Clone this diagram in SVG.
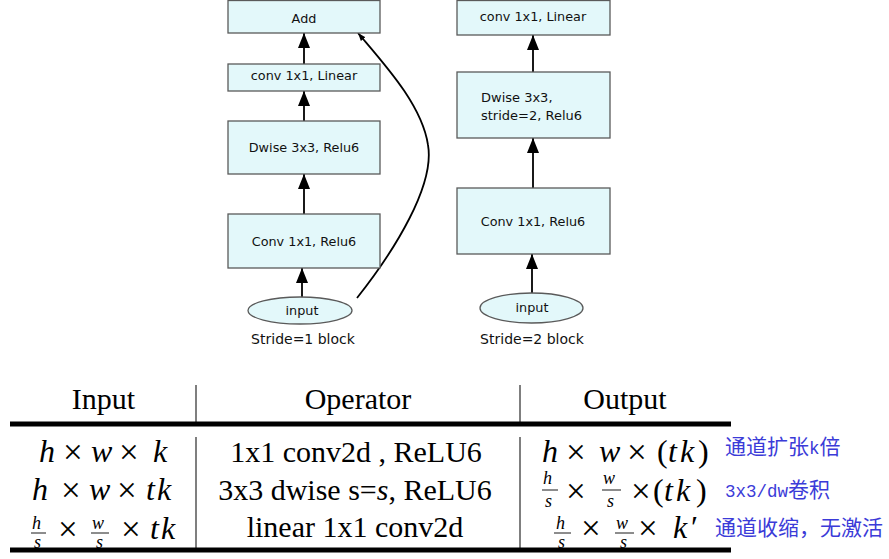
<svg xmlns="http://www.w3.org/2000/svg" width="889" height="559" viewBox="0 0 889 559">
<defs>
<marker id="ah" markerUnits="userSpaceOnUse" markerWidth="15" markerHeight="12" refX="15" refY="6" orient="auto">
<path d="M0,0 L15,6 L0,12 z" fill="#000"/>
</marker>
<marker id="ahs" markerUnits="userSpaceOnUse" markerWidth="8" markerHeight="6" refX="8" refY="3" orient="auto">
<path d="M0,0 L8,3 L0,6 z" fill="#000"/>
</marker>
<style>
.box{fill:#e3f8fa;stroke:#5a5a5a;stroke-width:1.3}
.lbl{font-family:"DejaVu Sans",sans-serif;font-size:12.8px;fill:#111;text-anchor:middle}
.lbl2{font-family:"DejaVu Sans",sans-serif;font-size:13px;fill:#111}
.cap{font-family:"DejaVu Sans",sans-serif;font-size:14px;fill:#111;text-anchor:middle}
.conn{stroke:#000;stroke-width:1.8;fill:none}
.hd{font-family:"Liberation Serif",serif;font-size:30px;fill:#000;text-anchor:middle}
.op{font-family:"Liberation Serif",serif;font-size:30px;fill:#000;text-anchor:middle}
.m{font-family:"Liberation Serif",serif;font-size:32px;font-style:italic;fill:#000}
.xx{font-family:"Liberation Serif",serif;font-size:35px;fill:#000}
.r{font-style:normal}
.f{font-family:"Liberation Serif",serif;font-size:18px;font-style:italic;fill:#000}
.bar{stroke:#000;stroke-width:0.9}
.thick{fill:#000}
.sep{stroke:#555;stroke-width:1.5}
.cn{font-family:"Noto Sans CJK SC",sans-serif;font-size:21px;fill:#3b3bd8}
.mono{font-family:"Liberation Mono",monospace;font-size:17.5px}
</style>
</defs>

<g id="connectors">
<line class="conn" x1="304" y1="64" x2="304" y2="33" marker-end="url(#ah)"/>
<line class="conn" x1="304" y1="121" x2="304" y2="91" marker-end="url(#ah)"/>
<line class="conn" x1="304" y1="214" x2="304" y2="174" marker-end="url(#ah)"/>
<line class="conn" x1="302" y1="297" x2="302" y2="268" marker-end="url(#ah)"/>
<path class="conn" d="M357,298 C395,250 435,185 428,145 C422,105 385,65 358,33" stroke-width="1.4" marker-end="url(#ahs)"/>
<line class="conn" x1="533" y1="72" x2="533" y2="35" marker-end="url(#ah)"/>
<line class="conn" x1="533" y1="188" x2="533" y2="138" marker-end="url(#ah)"/>
<line class="conn" x1="532" y1="293" x2="532" y2="254" marker-end="url(#ah)"/>
</g>

<g id="s1-add"><rect class="box" x="228" y="0.5" width="152" height="32.5"/><text class="lbl" x="304" y="23">Add</text></g>
<g id="s1-linear"><rect class="box" x="228" y="64" width="152" height="27"/><text class="lbl" x="304" y="80">conv 1x1, Linear</text></g>
<g id="s1-dwise"><rect class="box" x="228" y="121" width="152" height="53"/><text class="lbl" x="304" y="152">Dwise 3x3, Relu6</text></g>
<g id="s1-conv"><rect class="box" x="228" y="214" width="152" height="54"/><text class="lbl" x="304" y="246">Conv 1x1, Relu6</text></g>
<g id="s1-input"><ellipse class="box" cx="300" cy="310.5" rx="52" ry="13.5"/><text class="lbl" x="302" y="315">input</text></g>
<g id="s1-caption"><text class="cap" x="303" y="344">Stride=1 block</text></g>

<g id="s2-linear"><rect class="box" x="457" y="0.5" width="153" height="34.5"/><text class="lbl" x="533" y="21">conv 1x1, Linear</text></g>
<g id="s2-dwise"><rect class="box" x="457" y="72" width="153" height="66"/><text class="lbl2" x="481" y="102">Dwise 3x3,</text><text class="lbl2" x="481" y="120">stride=2, Relu6</text></g>
<g id="s2-conv"><rect class="box" x="457" y="188" width="153" height="66"/><text class="lbl" x="533" y="226">Conv 1x1, Relu6</text></g>
<g id="s2-input"><ellipse class="box" cx="531.5" cy="308" rx="51.5" ry="15"/><text class="lbl" x="532" y="312">input</text></g>
<g id="s2-caption"><text class="cap" x="532" y="344">Stride=2 block</text></g>

<g id="table">
<text class="hd" x="103.5" y="409">Input</text>
<text class="hd" x="358" y="409">Operator</text>
<text class="hd" x="625" y="409">Output</text>
<line class="sep" x1="196" y1="385" x2="196" y2="422"/>
<line class="sep" x1="196" y1="437" x2="196" y2="548"/>
<line class="sep" x1="520" y1="385" x2="520" y2="422"/>
<line class="sep" x1="520" y1="437" x2="520" y2="548"/>

<text class="m" y="462"><tspan x="39">h</tspan><tspan x="91">w</tspan><tspan x="153">k</tspan></text>
<text class="xx" y="464"><tspan x="63">×</tspan><tspan x="119">×</tspan></text>
<text class="m" y="500"><tspan x="32">h</tspan><tspan x="89">w</tspan><tspan x="146">t</tspan><tspan x="157">k</tspan></text>
<text class="xx" y="502"><tspan x="61">×</tspan><tspan x="117">×</tspan></text>
<text class="f" x="32" y="529">h</text><line class="bar" x1="31" y1="533" x2="46" y2="533"/><text class="f" x="34" y="548">s</text>
<text class="f" x="92" y="529">w</text><line class="bar" x1="91" y1="533" x2="109" y2="533"/><text class="f" x="96" y="548">s</text>
<text class="xx" y="541"><tspan x="58">×</tspan><tspan x="121">×</tspan></text>
<text class="m" y="539"><tspan x="150">t</tspan><tspan x="161">k</tspan></text>

<text class="op" x="356" y="462">1x1 conv2d , ReLU6</text>
<text class="op" x="355" y="500">3x3 dwise s=<tspan font-style="italic">s</tspan>, ReLU6</text>
<text class="op" x="355" y="537">linear 1x1 conv2d</text>

<text class="m" y="462"><tspan x="542">h</tspan><tspan x="599">w</tspan><tspan class="r" x="657">(</tspan><tspan x="668">t</tspan><tspan x="680">k</tspan><tspan class="r" x="698">)</tspan></text>
<text class="xx" y="464"><tspan x="566">×</tspan><tspan x="627">×</tspan></text>

<text class="f" x="543" y="484">h</text><line class="bar" x1="542" y1="490" x2="558" y2="490"/><text class="f" x="545" y="507">s</text>
<text class="f" x="603" y="484">w</text><line class="bar" x1="602" y1="490" x2="621" y2="490"/><text class="f" x="607" y="507">s</text>
<text class="xx" y="503"><tspan x="566">×</tspan><tspan x="631">×</tspan></text>
<text class="m" y="501"><tspan class="r" x="653">(</tspan><tspan x="664">t</tspan><tspan x="676">k</tspan><tspan class="r" x="696">)</tspan></text>

<text class="f" x="556" y="529">h</text><line class="bar" x1="554" y1="533" x2="571" y2="533"/><text class="f" x="558" y="548">s</text>
<text class="f" x="616" y="529">w</text><line class="bar" x1="615" y1="533" x2="634" y2="533"/><text class="f" x="620" y="548">s</text>
<text class="xx" y="540"><tspan x="581">×</tspan><tspan x="638">×</tspan></text>
<text class="m" y="538"><tspan x="673">k</tspan><tspan class="r" x="691">′</tspan></text>

<rect class="thick" x="10" y="421.5" width="721" height="5"/>
<rect class="thick" x="10" y="547.5" width="721" height="5"/>
</g>

<g id="notes">
<text class="cn" x="725" y="454">通道扩张<tspan class="mono">k</tspan>倍</text>
<text class="cn" x="725" y="497"><tspan class="mono">3x3/dw</tspan>卷积</text>
<text class="cn" x="715" y="535">通道收缩，无激活</text>
</g>
</svg>
